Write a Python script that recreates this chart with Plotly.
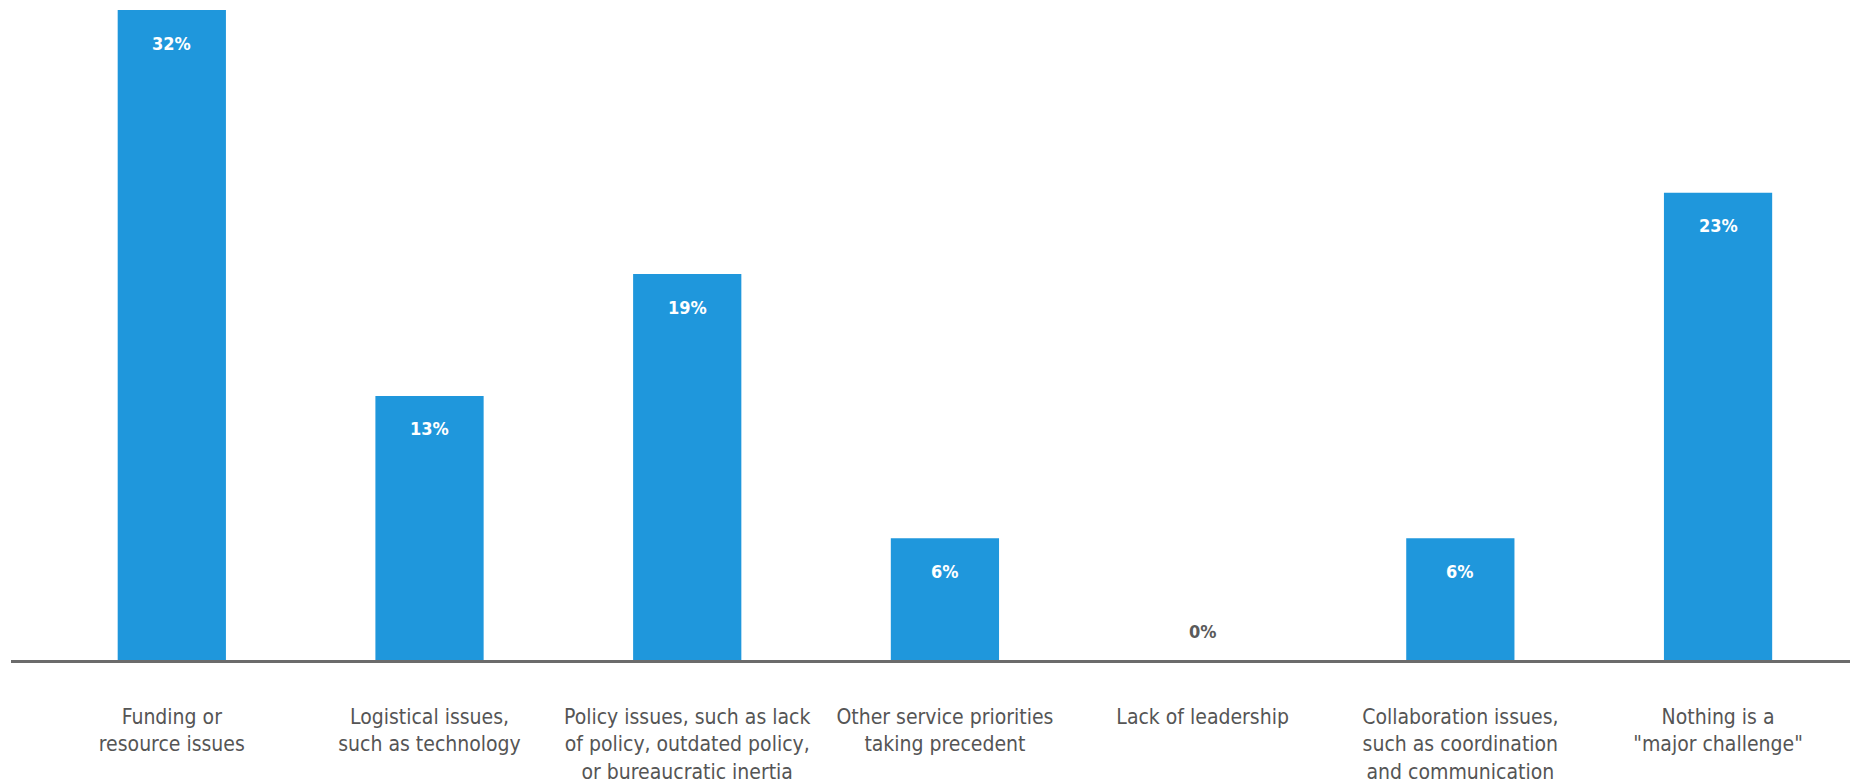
import plotly.graph_objects as go

categories = [
    "Funding or<br>resource issues",
    "Logistical issues,<br>such as technology",
    "Policy issues, such as lack<br>of policy, outdated policy,<br>or bureaucratic inertia",
    "Other service priorities<br>taking precedent",
    "Lack of leadership",
    "Collaboration issues,<br>such as coordination<br>and communication",
    "Nothing is a<br>\"major challenge\"",
]
values = [32, 13, 19, 6, 0, 6, 23]
value_labels = ["32%", "13%", "19%", "6%", "0%", "6%", "23%"]

BAR = "#1f97dc"
FONT = "Liberation Sans Narrow, DejaVu Sans Condensed, Arial Narrow, sans-serif"

fig = go.Figure()
fig.add_trace(go.Bar(
    x=list(range(len(categories))),
    y=values,
    marker=dict(color=BAR, line=dict(width=0)),
    hoverinfo="skip",
))

annotations = []
for i, (v, lab) in enumerate(zip(values, value_labels)):
    if v > 0:
        annotations.append(dict(
            x=i, y=v, xref="x", yref="y", text="<b>" + lab + "</b>",
            showarrow=False, yanchor="middle", yshift=-33,
            font=dict(family=FONT, size=18, color="white"),
        ))
    else:
        annotations.append(dict(
            x=i, y=v, xref="x", yref="y", text="<b>" + lab + "</b>",
            showarrow=False, yanchor="middle", yshift=29,
            font=dict(family=FONT, size=18, color="#5a5a5a"),
        ))

fig.update_layout(
    width=1850, height=784,
    margin=dict(l=11, r=0, t=10, b=119),
    paper_bgcolor="white", plot_bgcolor="white",
    bargap=0.58,
    showlegend=False,
    annotations=annotations,
    xaxis=dict(
        range=[-0.624, 6.512],
        tickmode="array",
        tickvals=list(range(len(categories))),
        ticktext=categories,
        showline=True, linecolor="#6b6b6b", linewidth=2.5,
        ticks="outside", ticklen=36, tickcolor="rgba(0,0,0,0)",
        tickfont=dict(family=FONT, size=21, color="#555555"),
        showgrid=False, zeroline=False, fixedrange=True,
    ),
    yaxis=dict(
        range=[0, 32],
        visible=False, showgrid=False, zeroline=False, fixedrange=True,
    ),
)

fig.write_html("out.html")
